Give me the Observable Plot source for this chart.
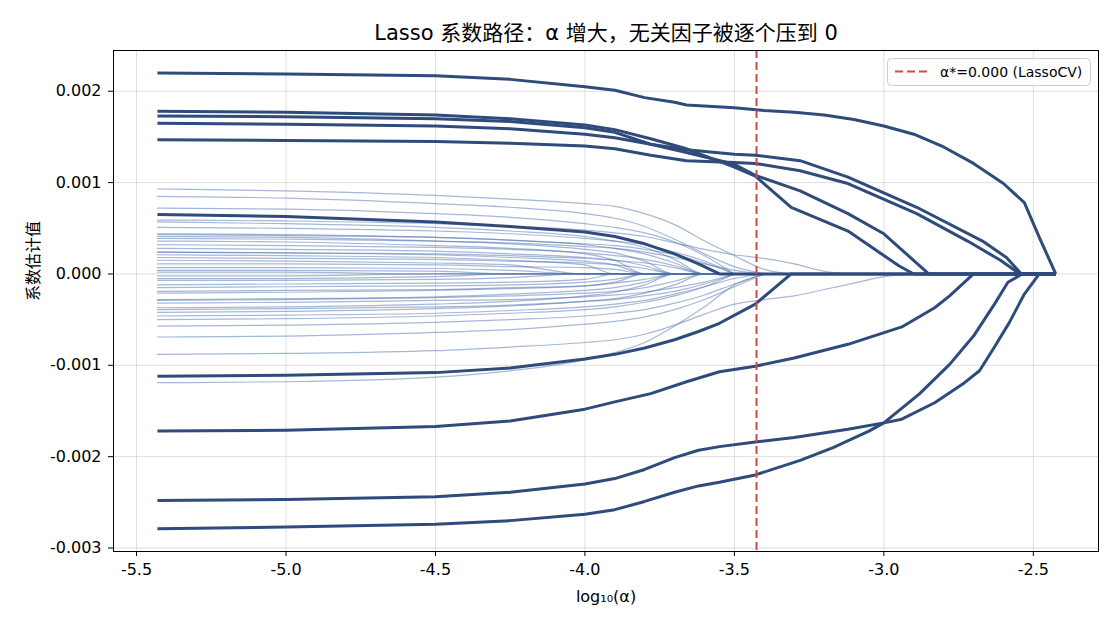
<!DOCTYPE html>
<html>
<head>
<meta charset="utf-8">
<script src="https://cdn.jsdelivr.net/npm/d3@7"></script>
<script src="https://cdn.jsdelivr.net/npm/@observablehq/plot@0.6"></script>
<style>
  html, body { margin: 0; padding: 0; background: #fff; }
</style>
</head>
<body>
<div id="chart"></div>
<script>
// ---------- text ----------
const titleText = "Lasso 系数路径：α 增大，无关因子被逐个压到 0";
const xLabelText = "log₁₀(α)";
const yLabelText = "系数估计值";
const legendText = "α*=0.000 (LassoCV)";

// ---------- axes ----------
const xTicks = [-5.5, -5.0, -4.5, -4.0, -3.5, -3.0, -2.5];
const xTickLabels = ["-5.5", "-5.0", "-4.5", "-4.0", "-3.5", "-3.0", "-2.5"];
const yTicks = [-0.003, -0.002, -0.001, 0, 0.001, 0.002];
const yTickLabels = ["-0.003", "-0.002", "-0.001", "0.000", "0.001", "0.002"];

// selected alpha (log10) from LassoCV
const alphaStar = -3.426;

// ---------- thin (irrelevant) coefficient paths, sampled on a common log10(alpha) grid ----------
const gridT = [-5.43, -5.0, -4.5, -4.25, -4.0, -3.9, -3.8, -3.7, -3.6, -3.5, -3.4, -3.3, -3.2, -3.1, -3.0, -2.9];
const thinPaths = [
  [0.00093,0.00091,0.00086,0.00082,0.00077,0.00074,0.00066,0.00054,0.00036,0.00020,0.00005,0],
  [0.00085,0.00083,0.00077,0.00073,0.00066,0.00061,0.00052,0.00038,0.00022,0.00008,0],
  [0.00072,0.00071,0.00066,0.00062,0.00055,0.00051,0.00045,0.00035,0.00020,0],
  [0.00059,0.00058,0.00055,0.00052,0.00048,0.00045,0.00041,0.00034,0.00027,0.00021,0.00017,0.00011,0.00003,0],
  [0.00057,0.00055,0.00051,0.00047,0.00041,0.00036,0.00029,0.00016,0,0],
  [0.00051,0.00050,0.00047,0.00044,0.00039,0.00036,0.00032,0.00024,0.00014,0],
  [0.00044,0.00043,0.00040,0.00037,0.00032,0.00028,0.00022,0.00012,0,0],
  [0.00043,0.00042,0.00040,0.00037,0.00033,0.00031,0.00027,0.00021,0.00012,0],
  [0.00041,0.00040,0.00036,0.00033,0.00027,0.00023,0.00014,0,0,0],
  [0.00039,0.00038,0.00036,0.00034,0.00030,0.00028,0.00024,0.00018,0.00011,0.00004,0],
  [0.00036,0.00035,0.00031,0.00028,0.00022,0.00015,0,0,0,0],
  [0.00032,0.00031,0.00029,0.00027,0.00023,0.00020,0.00016,0.00009,0,0],
  [0.00028,0.00027,0.00025,0.00022,0.00018,0.00015,0.00009,0,0,0],
  [0.00024,0.00023,0.00021,0.00018,0.00014,0.00010,0,0,0,0],
  [0.00024,0.00023,0.00022,0.00020,0.00017,0.00015,0.00012,0.00007,0,0],
  [0.00021,0.00020,0.00018,0.00015,0.00010,0,0,0,0,0],
  [0.00018,0.00017,0.00016,0.00014,0.00012,0.00010,0.00006,0,0,0],
  [0.00015,0.00014,0.00012,0.00010,0,0,0,0,0,0],
  [0.00011,0.00011,0.00010,0.00008,0.00007,0.00005,0,0,0,0],
  [0.00007,0.00007,0.00006,0.00004,0,0,0,0,0,0],
  [0.00004,0.00004,0.00003,0,0,0,0,0,0,0],
  [0.00002,0.00002,0,0,0,0,0,0,0,0],
  [-0.00002,-0.00002,0,0,0,0,0,0,0,0],
  [-0.00005,-0.00005,-0.00003,0,0,0,0,0,0,0],
  [-0.00007,-0.00007,-0.00006,-0.00004,0,0,0,0,0,0],
  [-0.00012,-0.00011,-0.00010,-0.00009,-0.00006,0,0,0,0,0],
  [-0.00015,-0.00014,-0.00013,-0.00012,-0.00009,-0.00006,0,0,0,0],
  [-0.00019,-0.00018,-0.00017,-0.00015,-0.00013,-0.00010,-0.00006,0,0,0],
  [-0.00021,-0.00020,-0.00018,-0.00016,-0.00013,-0.00009,0,0,0,0],
  [-0.00029,-0.00028,-0.00026,-0.00024,-0.00021,-0.00019,-0.00015,-0.00008,0,0],
  [-0.00028,-0.00027,-0.00025,-0.00022,-0.00018,-0.00015,-0.00009,0,0,0],
  [-0.00032,-0.00031,-0.00029,-0.00028,-0.00025,-0.00023,-0.00020,-0.00015,-0.00009,0],
  [-0.00037,-0.00036,-0.00033,-0.00030,-0.00024,-0.00020,-0.00012,0,0,0],
  [-0.00039,-0.00038,-0.00036,-0.00034,-0.00030,-0.00028,-0.00024,-0.00019,-0.00011,0],
  [-0.00042,-0.00041,-0.00038,-0.00035,-0.00030,-0.00027,-0.00021,-0.00012,0,0],
  [-0.00046,-0.00045,-0.00043,-0.00040,-0.00036,-0.00033,-0.00029,-0.00022,-0.00014,-0.00005,0],
  [-0.00050,-0.00049,-0.00046,-0.00043,-0.00039,-0.00036,-0.00031,-0.00024,-0.00014,0],
  [-0.00057,-0.00056,-0.00053,-0.00050,-0.00046,-0.00043,-0.00039,-0.00032,-0.00023,-0.00011,0],
  [-0.00069,-0.00068,-0.00064,-0.00061,-0.00055,-0.00052,-0.00047,-0.00039,-0.00028,-0.00014,0],
  [-0.00088,-0.00087,-0.00084,-0.00080,-0.00075,-0.00072,-0.00066,-0.00056,-0.00044,-0.00033,-0.00028,-0.00024,-0.00017,-0.00010,-0.00003,0],
  [-0.00119,-0.00118,-0.00113,-0.00106,-0.00094,-0.00086,-0.00075,-0.00057,-0.00036,-0.00012,0]
];

// ---------- thick (relevant) coefficient paths: [log10(alpha), coef] ----------
const thick1 = [[-5.43,0.00220],[-5.0,0.00219],[-4.5,0.00217],[-4.25,0.00213],[-4.0,0.00205],[-3.9,0.00201],[-3.8,0.00193],[-3.7,0.00188],[-3.66,0.00185],[-3.5,0.00182],[-3.4,0.00179],[-3.3,0.00177],[-3.2,0.00174],[-3.1,0.00169],[-3.0,0.00162],[-2.9,0.00153],[-2.8,0.00139],[-2.7,0.00121],[-2.6,0.00099],[-2.53,0.00078],[-2.48,0.00040],[-2.425,0]];
const thick2 = [[-5.43,0.00178],[-5.0,0.00177],[-4.5,0.00174],[-4.25,0.00170],[-4.0,0.00163],[-3.9,0.00158],[-3.78,0.00148],[-3.66,0.00137],[-3.5,0.00117],[-3.43,0.00107],[-3.31,0.00073],[-3.12,0.00047],[-2.95,0.00009],[-2.9,0],[-2.425,0]];
const thick3 = [[-5.43,0.00173],[-5.0,0.00172],[-4.5,0.00170],[-4.25,0.00167],[-4.0,0.00160],[-3.9,0.00155],[-3.78,0.00142],[-3.66,0.00133],[-3.5,0.00120],[-3.43,0.00108],[-3.28,0.00091],[-3.12,0.00066],[-3.0,0.00044],[-2.85,0],[-2.425,0]];
const thick4 = [[-5.43,0.00165],[-5.0,0.00164],[-4.5,0.00162],[-4.25,0.00159],[-4.0,0.00153],[-3.9,0.00149],[-3.78,0.00142],[-3.66,0.00136],[-3.5,0.00131],[-3.43,0.00130],[-3.28,0.00124],[-3.12,0.00106],[-2.89,0.00073],[-2.67,0.00036],[-2.59,0.00018],[-2.54,0],[-2.425,0]];
const thick5 = [[-5.43,0.00147],[-5.0,0.00146],[-4.5,0.00145],[-4.25,0.00143],[-4.0,0.00140],[-3.9,0.00137],[-3.78,0.00130],[-3.66,0.00124],[-3.5,0.00122],[-3.43,0.00121],[-3.28,0.00113],[-3.12,0.00099],[-2.89,0.00066],[-2.72,0.00036],[-2.61,0.00015],[-2.545,0],[-2.425,0]];
const thick6 = [[-5.43,0.00065],[-5.0,0.00063],[-4.5,0.00057],[-4.25,0.00052],[-4.0,0.00046],[-3.9,0.00041],[-3.8,0.00033],[-3.7,0.00022],[-3.62,0.00011],[-3.55,0],[-2.425,0]];
const thick7 = [[-5.43,-0.00112],[-5.0,-0.00111],[-4.5,-0.00108],[-4.25,-0.00103],[-4.0,-0.00093],[-3.9,-0.00088],[-3.8,-0.00081],[-3.7,-0.00072],[-3.62,-0.00063],[-3.55,-0.00054],[-3.43,-0.00033],[-3.31,0],[-2.425,0]];
const thick8 = [[-5.43,-0.00172],[-5.0,-0.00171],[-4.5,-0.00167],[-4.25,-0.00161],[-4.0,-0.00148],[-3.9,-0.00140],[-3.78,-0.00131],[-3.66,-0.00118],[-3.55,-0.00107],[-3.43,-0.00101],[-3.3,-0.00092],[-3.12,-0.00077],[-2.94,-0.00058],[-2.83,-0.00037],[-2.78,-0.00024],[-2.7,0],[-2.425,0]];
const thick9 = [[-5.43,-0.00248],[-5.0,-0.00247],[-4.5,-0.00244],[-4.25,-0.00239],[-4.0,-0.00230],[-3.9,-0.00224],[-3.8,-0.00214],[-3.7,-0.00201],[-3.62,-0.00193],[-3.55,-0.00189],[-3.43,-0.00184],[-3.3,-0.00179],[-3.12,-0.00170],[-3.0,-0.00163],[-2.94,-0.00159],[-2.83,-0.00141],[-2.73,-0.00119],[-2.68,-0.00106],[-2.63,-0.00080],[-2.58,-0.00053],[-2.53,-0.00022],[-2.48,0],[-2.425,0]];
const thick10 = [[-5.43,-0.00279],[-5.0,-0.00277],[-4.5,-0.00274],[-4.25,-0.00270],[-4.0,-0.00263],[-3.9,-0.00258],[-3.8,-0.00249],[-3.7,-0.00239],[-3.62,-0.00232],[-3.55,-0.00228],[-3.43,-0.00220],[-3.28,-0.00204],[-3.17,-0.00190],[-3.05,-0.00172],[-3.0,-0.00163],[-2.88,-0.00131],[-2.78,-0.00099],[-2.70,-0.00068],[-2.63,-0.00033],[-2.585,-0.00009],[-2.537,0],[-2.425,0]];
const thickPaths = [thick1, thick2, thick3, thick4, thick5, thick6, thick7, thick8, thick9, thick10];

// ---------- build tables ----------
const thinRows = thinPaths.flatMap((vals, i) => vals.map((v, j) => ({id: i, x: gridT[j], y: v})));
const thickRows = thickPaths.flatMap((pts, i) => pts.map(([x, y]) => ({id: i, x, y})));

const FONT = "'DejaVu Sans', 'Noto Sans CJK SC', sans-serif";

const plot = Plot.plot({
  width: 1118,
  height: 624,
  marginTop: 50,
  marginBottom: 73,
  marginLeft: 113,
  marginRight: 20,
  style: {fontFamily: FONT, fontSize: "16px", color: "#000", background: "#fff", overflow: "visible"},
  x: {domain: [-5.577, -2.282], label: null},
  y: {domain: [-0.003038, 0.002446], label: null},
  marks: [
    Plot.gridX(xTicks, {stroke: "#b0b0b0", strokeOpacity: 0.4, strokeWidth: 1}),
    Plot.gridY(yTicks, {stroke: "#b0b0b0", strokeOpacity: 0.4, strokeWidth: 1}),
    Plot.line(thinRows, {x: "x", y: "y", z: "id", stroke: "#4c72b0", strokeOpacity: 0.5, strokeWidth: 1.2, curve: "monotone-x"}),
    Plot.line(thickRows, {x: "x", y: "y", z: "id", stroke: "#2f4b7c", strokeWidth: 3, curve: "linear", strokeLinejoin: "round", strokeLinecap: "butt"}),
    Plot.ruleX([alphaStar], {stroke: "#d04848", strokeWidth: 2, strokeDasharray: "8,4"}),
    Plot.frame({stroke: "#000", strokeWidth: 1}),
    Plot.axisX(xTicks, {tickSize: 5, tickPadding: 7, tickFormat: (d) => xTickLabels[xTicks.indexOf(d)], label: null, fontSize: 16}),
    Plot.axisY(yTicks, {tickSize: 5, tickPadding: 7, tickFormat: (d) => yTickLabels[yTicks.indexOf(d)], label: null, fontSize: 16}),
    Plot.text([titleText], {text: (d) => d, frameAnchor: "top", dy: -11, lineAnchor: "bottom", fontSize: 21}),
    Plot.text([xLabelText], {text: (d) => d, frameAnchor: "bottom", dy: 50, lineAnchor: "bottom", fontSize: 16}),
    Plot.text([yLabelText], {text: (d) => d, frameAnchor: "left", dx: -80, rotate: -90, lineAnchor: "middle", fontSize: 16})
  ]
});

document.getElementById("chart").appendChild(plot);

// ---------- legend (top-right, inside the frame) ----------
const svg = d3.select(plot);
const lg = svg.append("g").attr("class", "legend");
lg.append("rect")
  .attr("x", 887.5).attr("y", 58.5).attr("width", 203).attr("height", 27)
  .attr("rx", 4).attr("ry", 4)
  .attr("fill", "#fff").attr("fill-opacity", 0.85)
  .attr("stroke", "#cccccc").attr("stroke-width", 1);
lg.append("line")
  .attr("x1", 895).attr("x2", 927).attr("y1", 71.5).attr("y2", 71.5)
  .attr("stroke", "#d04848").attr("stroke-width", 2).attr("stroke-dasharray", "8,4");
lg.append("text")
  .attr("x", 940).attr("y", 77)
  .attr("text-anchor", "start")
  .attr("font-size", 14).attr("font-family", FONT).attr("fill", "#000")
  .text(legendText);
</script>
</body>
</html>
